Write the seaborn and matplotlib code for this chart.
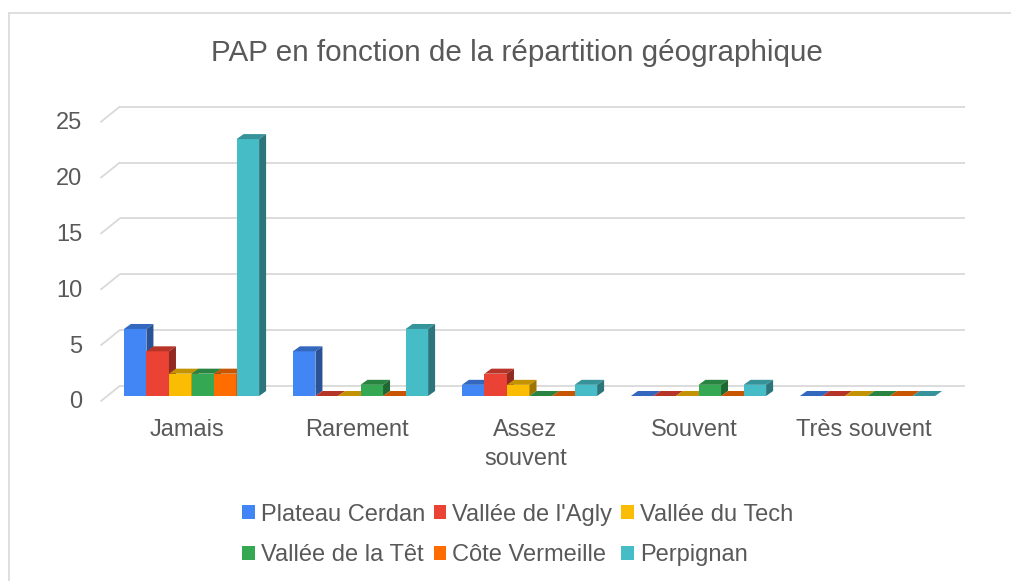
import numpy as np
import pandas as pd
import matplotlib
matplotlib.use("Agg")
import matplotlib.pyplot as plt
from matplotlib.patches import Polygon
from matplotlib.lines import Line2D
from matplotlib.transforms import ScaledTranslation
import seaborn as sns

# ---------------- data ----------------
categories = ["Jamais", "Rarement", "Assez\nsouvent", "Souvent", "Très souvent"]
zones = ["Plateau Cerdan", "Vallée de l'Agly", "Vallée du Tech",
         "Vallée de la Têt", "Côte Vermeille", "Perpignan"]
plateau_cerdan = [6, 4, 1, 0, 0]
vallee_agly = [4, 0, 2, 0, 0]
vallee_tech = [2, 0, 1, 0, 0]
vallee_tet = [2, 1, 0, 1, 0]
cote_vermeille = [2, 0, 0, 0, 0]
perpignan = [23, 6, 1, 1, 0]
y_ticks = [0, 5, 10, 15, 20, 25]
title = "PAP en fonction de la répartition géographique"

colors = ["#4285F4", "#EA4335", "#FBBC04", "#34A853", "#FF6D01", "#46BDC6"]

series = [plateau_cerdan, vallee_agly, vallee_tech, vallee_tet, cote_vermeille, perpignan]
rows = []
for z, vals in zip(zones, series):
    for c, v in zip(categories, vals):
        rows.append({"Fréquence": c, "Nombre": v, "Zone": z})
df = pd.DataFrame(rows)

# ---------------- figure ----------------
sns.set_theme(style="white")
plt.rcParams["font.family"] = ["Liberation Sans", "DejaVu Sans"]
W, H = 1011, 581
fig = plt.figure(figsize=(W / 100, H / 100), dpi=100)
ax_left, ax_right = 107, 952
ax_y0, px_per_unit = 396, 11.17
ax_top = ax_y0 - 25 * px_per_unit
ax = fig.add_axes([ax_left / W, (H - ax_y0) / H, (ax_right - ax_left) / W, (ax_y0 - ax_top) / H])

sns.barplot(data=df, x="Fréquence", y="Nombre", hue="Zone", hue_order=zones,
            order=categories, palette=colors, saturation=1, width=0.8,
            ax=ax, legend=True, linewidth=0)
ax.set_xlim(-0.5, 4.5)
ax.set_ylim(0, 25)
for s in ax.spines.values():
    s.set_visible(False)
ax.set_xlabel("")
ax.set_ylabel("")
ax.grid(False)

# pixel -> data conversions
px_x = (ax_right - ax_left) / 5.0
px_y = px_per_unit


def dx(p):
    return p / px_x


def dy(p):
    return p / px_y


grid_c = "#d9d9d9"
# 3D gridlines (back wall + left slant)
for v in y_ticks:
    ax.plot([-0.5 + dx(12.7), 4.5 + dx(12.7)], [v + dy(10), v + dy(10)], color=grid_c,
            lw=1.3, clip_on=False, zorder=0, solid_capstyle="butt")
    ax.plot([-0.5 - dx(6), -0.5 + dx(12.7)], [v - dy(5), v + dy(10)], color=grid_c,
            lw=1.3, clip_on=False, zorder=0)


def shade(col, f):
    r, g, b = matplotlib.colors.to_rgb(col)
    return (r * f, g * f, b * f)


bdx, bdy = dx(7), dy(5)
for hi, cont in enumerate(ax.containers):
    col = colors[hi]
    for p in cont.patches:
        z = 2 + hi * 0.1
        p.set_zorder(z)
        x0 = p.get_x()
        x1 = x0 + p.get_width()
        h = p.get_height()
        top = Polygon([(x0, h), (x1, h), (x1 + bdx, h + bdy), (x0 + bdx, h + bdy)],
                      closed=True, facecolor=shade(col, 0.78), edgecolor="none",
                      zorder=z, clip_on=False)
        ax.add_patch(top)
        if h > 0:
            side = Polygon([(x1, 0), (x1 + bdx, bdy), (x1 + bdx, h + bdy), (x1, h)],
                           closed=True, facecolor=shade(col, 0.62), edgecolor="none",
                           zorder=z, clip_on=False)
            ax.add_patch(side)

text_c = "#595959"
ax.set_yticks(y_ticks)
ax.set_yticklabels([str(t) for t in y_ticks])
ax.tick_params(axis="y", length=0, pad=18, labelsize=17, labelcolor=text_c)
ax.tick_params(axis="x", length=0, pad=13, labelsize=17, labelcolor=text_c)
for lab in ax.get_yticklabels():
    lab.set_transform(lab.get_transform() + ScaledTranslation(0, -0.04, fig.dpi_scale_trans))
for lab in ax.get_xticklabels():
    lab.set_transform(lab.get_transform() + ScaledTranslation(-0.04, -0.05, fig.dpi_scale_trans))
    lab.set_linespacing(1.38)

# legend
handles, labels = ax.get_legend_handles_labels()
ax.get_legend().remove()
order = [0, 3, 1, 4, 2, 5]
fig.legend([handles[i] for i in order], [labels[i] for i in order], ncol=3,
           loc="center", bbox_to_anchor=(517.5 / W, 1 - 535 / H), frameon=False,
           fontsize=17, handlelength=0.54, handleheight=0.54, handletextpad=0.26,
           columnspacing=0.36, labelspacing=0.78, labelcolor=text_c, borderpad=0)

fig.text(517 / W, 1 - 61 / H, title, ha="center", va="baseline", fontsize=21.3, color=text_c)

# chart border
fig.add_artist(Line2D([9 / W, 9 / W], [0, 1 - 13 / H], color=grid_c, lw=1.2))
fig.add_artist(Line2D([9 / W, 1], [1 - 13 / H, 1 - 13 / H], color=grid_c, lw=1.2))

fig.savefig("out.png", dpi=100, facecolor="white")
